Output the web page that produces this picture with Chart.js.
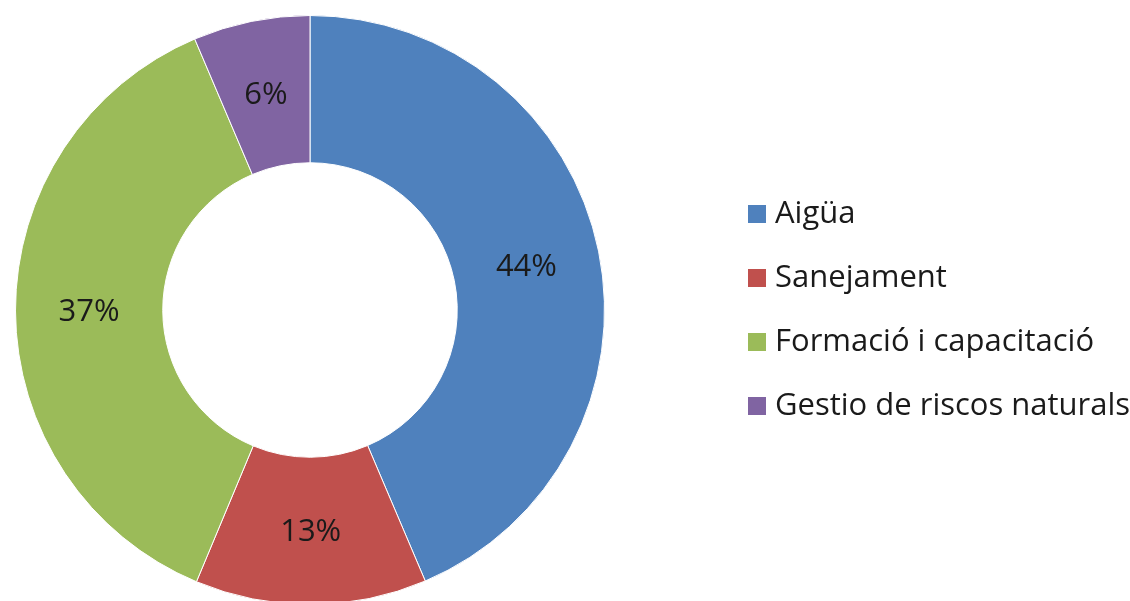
<!DOCTYPE html>
<html>
<head>
<meta charset="utf-8">
<script src="https://cdn.jsdelivr.net/npm/chart.js@4/dist/chart.umd.min.js"></script>
<style>
  html, body { margin: 0; padding: 0; background: #ffffff; overflow: hidden; }
  #wrap { position: relative; width: 1130px; height: 620px; }
  #chart { position: absolute; left: 0; top: 0; }
  #legend { position: absolute; left: 748px; top: 196px; margin: 0; padding: 0; list-style: none;
            font-family: "Open Sans", sans-serif; font-size: 31px; color: #1a1a1a; }
  #legend li { height: 64px; line-height: 31px; white-space: nowrap; display: flex; align-items: baseline; }
  #legend .box { display: inline-block; flex: none; width: 18px; height: 18px; margin-right: 9px; }
</style>
</head>
<body>
<div id="wrap">
  <canvas id="chart" width="1130" height="620"></canvas>
  <ul id="legend"></ul>
</div>
<script>
const categories = ["Aigüa", "Sanejament", "Formació i capacitació", "Gestio de riscos naturals"];
const shares = [43.6, 12.7, 37.3, 6.4];
const colors = ["#4F81BD", "#C0504D", "#9BBB59", "#8064A2"];

const labelPlugin = {
  id: 'sliceLabels',
  afterDatasetsDraw(chart) {
    const ctx = chart.ctx;
    const meta = chart.getDatasetMeta(0);
    const total = shares.reduce((a, b) => a + b, 0);
    ctx.save();
    ctx.font = '31px "Open Sans", sans-serif';
    ctx.fillStyle = '#1a1a1a';
    ctx.textAlign = 'center';
    ctx.textBaseline = 'alphabetic';
    meta.data.forEach((arc, i) => {
      const p = arc.tooltipPosition();
      ctx.fillText(Math.round(shares[i] / total * 100) + '%', p.x, p.y + 10);
    });
    ctx.restore();
  }
};

new Chart(document.getElementById('chart'), {
  type: 'doughnut',
  data: {
    labels: categories,
    datasets: [{
      data: shares,
      backgroundColor: colors,
      borderColor: '#ffffff',
      borderWidth: 1
    }]
  },
  options: {
    responsive: false,
    animation: false,
    cutout: '50%',
    layout: { padding: { left: 15, top: 15, right: 525, bottom: 15 } },
    plugins: { legend: { display: false }, tooltip: { enabled: false } }
  },
  plugins: [labelPlugin]
});

const legendEl = document.getElementById('legend');
categories.forEach((name, i) => {
  const li = document.createElement('li');
  const box = document.createElement('span');
  box.className = 'box';
  box.style.background = colors[i];
  const txt = document.createElement('span');
  txt.textContent = name;
  li.appendChild(box);
  li.appendChild(txt);
  legendEl.appendChild(li);
});
</script>
</body>
</html>
